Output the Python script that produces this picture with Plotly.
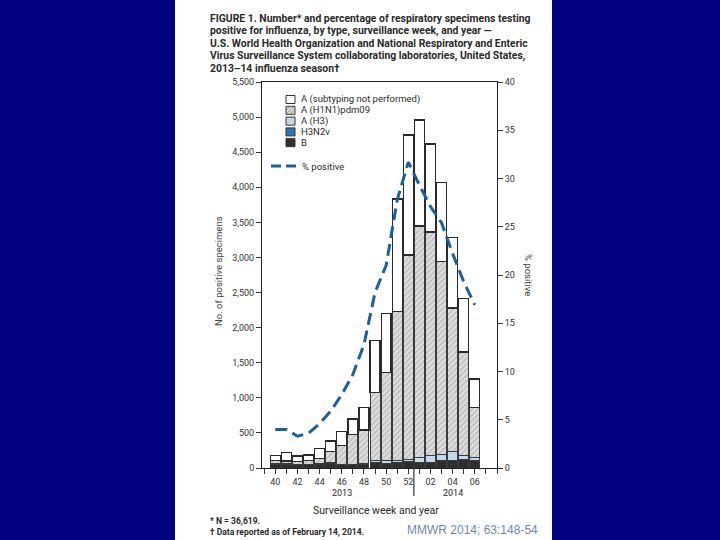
import plotly.graph_objects as go

# ---------------- data ----------------
weeks = ["40", "41", "42", "43", "44", "45", "46", "47", "48", "49", "50", "51", "52",
         "01", "02", "03", "04", "05", "06"]
tick_labels = ["40", "42", "44", "46", "48", "50", "52", "02", "04", "06"]
b_counts = [50, 52, 45, 47, 55, 62, 43, 45, 55, 75, 70, 80, 88, 85, 85, 104, 114, 124, 114]
h3n2v_counts = [0, 0, 0, 0, 0, 0, 0, 0, 0, 0, 0, 0, 0, 0, 0, 0, 0, 0, 0]
h3_counts = [8, 8, 8, 8, 8, 10, 10, 12, 12, 25, 34, 34, 38, 67, 100, 91, 118, 51, 38]
h1n1_counts = [52, 40, 42, 49, 75, 161, 272, 423, 474, 978, 1259, 2116, 2908, 3295, 3177,
               2749, 2048, 1477, 714]
unsub_counts = [68, 123, 76, 81, 142, 152, 192, 218, 318, 735, 840, 1602, 1710, 1510, 1253,
                1126, 1001, 760, 402]
pct_positive = [4.0, 4.0, 3.3, 3.6, 4.6, 5.9, 7.6, 9.7, 12.8, 18.2, 21.0, 27.8, 31.7, 29.3,
                27.1, 25.4, 22.2, 19.3, 16.9]
left_ticks = [0, 500, 1000, 1500, 2000, 2500, 3000, 3500, 4000, 4500, 5000, 5500]
year_labels = ["2013", "2014"]

title_lines = [
    "FIGURE 1. Number* and percentage of respiratory specimens testing",
    "positive for influenza, by type, surveillance week, and year —",
    "U.S. World Health Organization and National Respiratory and Enteric",
    "Virus Surveillance System collaborating laboratories, United States,",
    "2013–14 influenza season†",
]
legend_labels = ["A (subtyping not performed)", "A (H1N1)pdm09", "A (H3)", "H3N2v", "B"]

# week positions on a linear axis (one slot per surveillance week)
x_pos = list(range(len(weeks)))
tick_pos = [weeks.index(t) for t in tick_labels]

# ---------------- geometry helpers (pixels -> paper) ----------------
W, H = 720, 540
L, R, T, B = 262, 497, 82, 468


def px(x):
    return (x - L) / (R - L)


def py(y):
    return (B - y) / (B - T)


TXT = "#2a2a2a"
FONT = "Liberation Sans Narrow, Roboto, Arial, sans-serif"
FONT2 = "Roboto, Liberation Sans, Arial, sans-serif"

outline = dict(color="#3a3a3a", width=1)
fig = go.Figure()
fig.add_trace(go.Bar(x=x_pos, y=b_counts, name="B",
                     marker=dict(color="#2e2e31", line=outline)))
fig.add_trace(go.Bar(x=x_pos, y=h3n2v_counts, name="H3N2v",
                     marker=dict(color="#2f74b3", line=outline)))
fig.add_trace(go.Bar(x=x_pos, y=h3_counts, name="A (H3)",
                     marker=dict(color="#c6d9ec", line=outline)))
fig.add_trace(go.Bar(x=x_pos, y=h1n1_counts, name="A (H1N1)pdm09",
                     marker=dict(color="#dadada", line=outline,
                                 pattern=dict(shape="/", fgcolor="#8a8a8a", bgcolor="#dedede",
                                              size=4, solidity=0.3))))
fig.add_trace(go.Bar(x=x_pos, y=unsub_counts, name="A (subtyping not performed)",
                     marker=dict(color="#ffffff", line=dict(color="#2a2a2a", width=1.3))))
fig.add_trace(go.Scatter(x=x_pos, y=pct_positive, yaxis="y2", mode="lines", name="% positive",
                         line=dict(color="#1d5e9c", width=3, dash="12px,6px")))

shapes = []
annotations = []


def note(text, x, y, size, color=TXT, family=FONT2, xanchor="center", angle=0, xref="paper",
         yanchor="middle", **kw):
    annotations.append(dict(text=text, xref=xref, yref="paper", x=x, y=y, xanchor=xanchor,
                            yanchor=yanchor, textangle=angle, showarrow=False,
                            font=dict(family=family, size=size, color=color), **kw))


# white panel on navy background
shapes.append(dict(type="rect", xref="paper", yref="paper", x0=px(175), x1=px(552),
                   y0=py(541), y1=py(-1), fillcolor="white", line=dict(width=0), layer="below"))

# separator between years
shapes.append(dict(type="line", xref="x", yref="paper", x0=12.5, x1=12.5,
                   y0=0, y1=py(496), line=dict(color="#333", width=1.2)))

# title: one text block (base size sets line spacing, span sets glyph size)
title_text = "<br>".join("<span style='font-size:10.4px'><b>" + ln + "</b></span>"
                         for ln in title_lines)
note(title_text, px(209), py(43.5), 9.6, family=FONT, xanchor="left", align="left",
     borderpad=0)

# manual legend
rows = [99.5, 110.3, 121.1, 131.9, 142.7]
fills = ["#ffffff", "#dedede", "#c6d9ec", "#2f74b3", "#2e2e31"]
for yy, lab, fc in zip(rows, legend_labels, fills):
    shapes.append(dict(type="rect", xref="paper", yref="paper", x0=px(286), x1=px(295),
                       y0=py(yy + 4), y1=py(yy - 4), fillcolor=fc,
                       line=dict(color="#333", width=1)))
    note(lab, px(300), py(yy), 9.5, xanchor="left", height=10.5, borderpad=0)
# hatch strokes inside H1N1 swatch
yy = rows[1]
path = ""
for off in [-4, 0, 4]:
    x0, y0 = 286 + off, yy + 4
    x1, y1 = 286 + off + 8, yy - 4
    if x0 < 286:
        y0 -= (286 - x0); x0 = 286
    if x1 > 295:
        y1 += (x1 - 295); x1 = 295
    path += f"M {px(x0)} {py(y0)} L {px(x1)} {py(y1)} "
shapes.append(dict(type="path", xref="paper", yref="paper", path=path,
                   line=dict(color="#777", width=0.8)))
shapes.append(dict(type="line", xref="paper", yref="paper", x0=px(271), x1=px(296),
                   y0=py(166), y1=py(166),
                   line=dict(color="#1d5e9c", width=3, dash="10px,5px")))
note("% positive", px(300), py(166), 9.5, xanchor="left")

# axis titles
note("No. of positive specimens", px(218), py(271), 9.5, color="#444", angle=-90)
note("% positive", px(529), py(275), 9.5, color="#444", angle=90)
note("Surveillance week and year", px(376), py(510), 10.5)
# year labels
for lab, xv in zip(year_labels, [6, 16]):
    note(lab, xv, py(493), 9, xref="x")
# footnotes
note("<b>* N = 36,619.</b>", px(209), py(521), 8.5, xanchor="left", height=10, borderpad=0)
note("<b>† Data reported as of February 14, 2014.</b>", px(209), py(532), 8.5,
     xanchor="left", height=10, borderpad=0)
note("MMWR 2014; 63:148-54", px(540), py(530), 12, color="#7287b3",
     family="Liberation Sans, Arial, sans-serif", xanchor="right")

axis_font = dict(family=FONT2, size=9, color="#333")
fig.update_layout(
    width=W, height=H,
    margin=dict(l=L, r=W - R, t=T, b=H - B, pad=0),
    paper_bgcolor="#000080", plot_bgcolor="white",
    barmode="stack", bargap=0.1, showlegend=False,
    xaxis=dict(range=[-1.2, 20], tickmode="array", tickvals=tick_pos,
               ticktext=tick_labels, ticks="outside", ticklen=5, tickcolor="#333",
               minor=dict(ticks="outside", ticklen=5, tickcolor="#333", dtick=1, tick0=0),
               showline=True, linecolor="#222", linewidth=1, mirror=True, showgrid=False,
               zeroline=False, tickfont=axis_font),
    yaxis=dict(range=[0, 5500], tickmode="array", tickvals=left_ticks, tickformat=",",
               ticks="outside", ticklen=5, tickcolor="#333", showline=True, linecolor="#222",
               linewidth=1, showgrid=False, zeroline=False, tickfont=axis_font),
    yaxis2=dict(range=[0, 40], dtick=5, overlaying="y", side="right", ticks="outside",
                ticklen=5, tickcolor="#333", showline=True, linecolor="#222", linewidth=1,
                showgrid=False, zeroline=False, tickfont=axis_font),
    shapes=shapes, annotations=annotations,
)

fig.write_html("out.html", config={"displayModeBar": False},
               post_script="document.body.style.margin='0';document.body.style.padding='0';"
                           "document.body.style.overflow='hidden';")
